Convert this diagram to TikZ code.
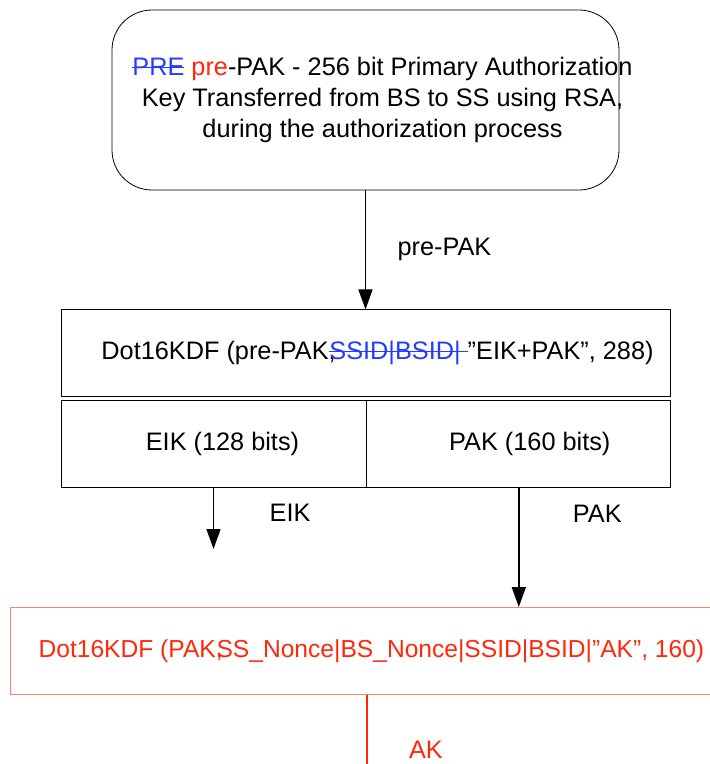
\documentclass[tikz,border=0pt]{standalone}
\usepackage{fontspec}
\setmainfont{Liberation Sans}
\usetikzlibrary{positioning,arrows.meta}
\definecolor{editblue}{RGB}{35,60,255}
\definecolor{editred}{RGB}{255,40,10}
\definecolor{boxred}{RGB}{255,130,110}
\newcommand{\struck}[1]{\sbox0{#1}\rlap{\usebox0}\rule[.3em]{\wd0}{1pt}}

\begin{document}
\begin{tikzpicture}[x=1pt, y=1pt, font=\fontsize{25.3}{31}\selectfont,
  box/.style={draw, line width=.8pt, minimum height=87pt, inner sep=0pt},
  arr/.style={-{Triangle[length=20pt,width=14pt]}, line width=1.6pt}]
\useasboundingbox (0,0) rectangle (710,-764);
\clip (0,0) rectangle (710,-764);
\node (K) [draw, line width=.8pt, rounded corners=40pt, minimum width=507pt, minimum height=180pt] at (365.5,-100) {};
  \node (Kt) [align=center] at ([xshift=17pt]K.center) {{\color{editblue}\struck{PRE}} {\color{editred}pre}-PAK - 256 bit Primary Authorization\\ Key Transferred from BS to SS using RSA,\\ during the authorization process};
  \node (D) [box, minimum width=609pt, below=119pt of K] {};
  \node (Dt) at ([xshift=12pt]D.center) {Dot16KDF (pre-PAK,\kern-.25em{\color{editblue}\struck{SSID|BSID| }}”EIK+PAK”, 288)};
  \node (E) [box, minimum width=305pt, below right=3pt and 0pt of D.south west, label={[xshift=9pt]center:EIK (128 bits)}] {};
  \node (P) [box, minimum width=304pt, right=0pt of E, label={[xshift=11pt]center:PAK (160 bits)}] {};
  \node (R) [box, draw=boxred, text=editred, minimum width=722pt, anchor=north west, font=\fontsize{24.6}{31}\selectfont] at (10,-607) {Dot16KDF (PAK,\kern-.25em SS\_Nonce|BS\_Nonce|SSID|BSID|”AK”, 160)};
  \coordinate [below=61pt of E.south] (Eend);
  \coordinate (AKend) at (367,-780);
   \draw[arr] (E) -- (Eend) node [pos=.4, right=52pt] {EIK};
   \draw[arr] (K) -- (D) node [midway, right=28pt] {pre-PAK};
   \draw[arr] (P) -- (P |- R.north) node [pos=.22, right=50pt] {PAK};
   \draw[editred, line width=1.5pt] (AKend |- R.south) -- (AKend) node [pos=.65, right=38pt] {AK};
\end{tikzpicture}
\end{document}
